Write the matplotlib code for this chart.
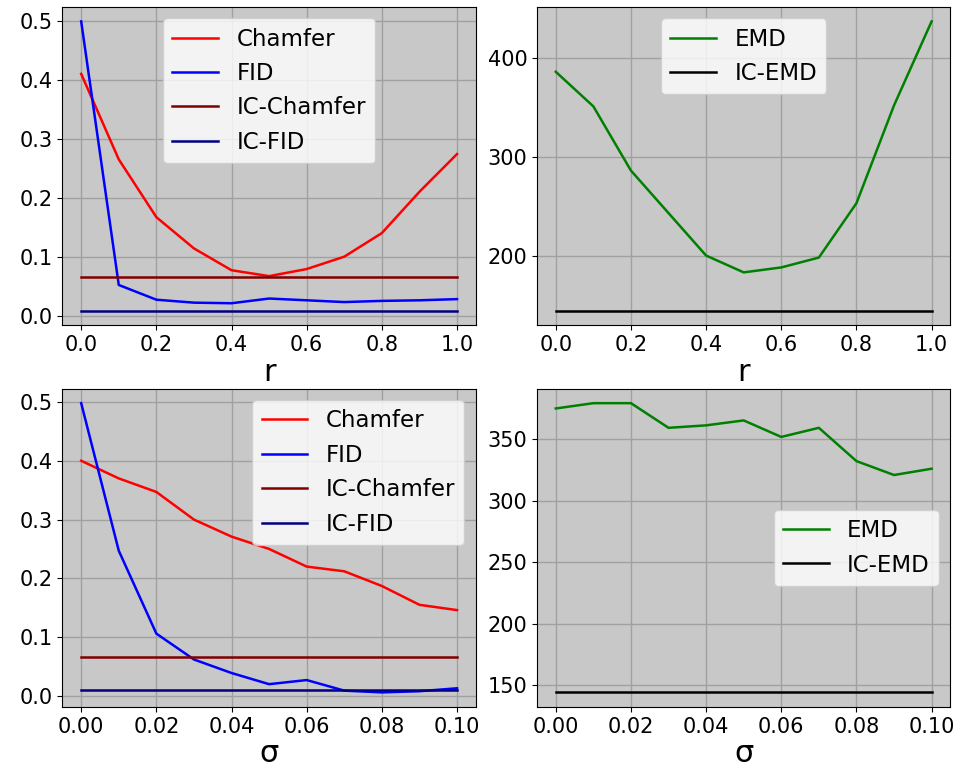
import numpy as np
import matplotlib
matplotlib.use("Agg")
import matplotlib.pyplot as plt

# sweep over r
r = [0.0, 0.1, 0.2, 0.3, 0.4, 0.5, 0.6, 0.7, 0.8, 0.9, 1.0]
chamfer_r = [0.411, 0.266, 0.168, 0.115, 0.078, 0.068, 0.080, 0.101, 0.141, 0.211, 0.275]
fid_r = [0.500, 0.053, 0.028, 0.023, 0.022, 0.030, 0.027, 0.024, 0.026, 0.027, 0.029]
emd_r = [386, 351, 286, 243, 200, 183, 188, 198, 253, 352, 437]

# sweep over sigma
sigma = [0.00, 0.01, 0.02, 0.03, 0.04, 0.05, 0.06, 0.07, 0.08, 0.09, 0.10]
chamfer_s = [0.400, 0.370, 0.347, 0.300, 0.271, 0.250, 0.220, 0.212, 0.187, 0.155, 0.146]
fid_s = [0.498, 0.247, 0.106, 0.062, 0.039, 0.020, 0.027, 0.009, 0.006, 0.008, 0.013]
emd_s = [374.7, 379, 379, 359, 361, 365, 351.6, 359, 332, 320.7, 325.8]

# reference (IC) values
ic_chamfer = 0.066
ic_fid = 0.0095
ic_emd = 144.3

plt.rcParams['font.size'] = 15
bg = '#c8c8c8'

fig, axs = plt.subplots(2, 2, figsize=(9.6, 7.7), dpi=100)
plt.subplots_adjust(left=0.065, right=0.99, top=0.991, bottom=0.082, hspace=0.2, wspace=0.148)

def metric_panel(ax, x, ch, fid, loc):
    ax.plot(x, ch, color='r', lw=1.8, label='Chamfer')
    ax.plot(x, fid, color='b', lw=1.8, label='FID')
    ax.plot(x, [ic_chamfer]*len(x), color='#800000', lw=1.8, label='IC-Chamfer')
    ax.plot(x, [ic_fid]*len(x), color='#000080', lw=1.8, label='IC-FID')
    ax.legend(loc=loc, fontsize=16.5, labelspacing=0.5)

def emd_panel(ax, x, emd, loc):
    ax.plot(x, emd, color='g', lw=1.8, label='EMD')
    ax.plot(x, [ic_emd]*len(x), color='k', lw=1.8, label='IC-EMD')
    ax.legend(loc=loc, fontsize=16.5, labelspacing=0.5)

metric_panel(axs[0, 0], r, chamfer_r, fid_r, 'upper center')
emd_panel(axs[0, 1], r, emd_r, 'upper center')
metric_panel(axs[1, 0], sigma, chamfer_s, fid_s, 'upper right')
emd_panel(axs[1, 1], sigma, emd_s, 'center right')

for ax in axs[0]:
    ax.set_xlabel('r', fontsize=22, labelpad=2)
for ax in axs[1]:
    ax.set_xlabel('σ', fontsize=22, labelpad=2)

axs[0, 1].set_yticks([200, 300, 400])
axs[1, 1].set_yticks([150, 200, 250, 300, 350])

for ax in axs.flat:
    ax.set_facecolor(bg)
    ax.grid(True, color='#a0a0a0', lw=1)
    ax.set_axisbelow(True)
    ax.tick_params(labelsize=15)

plt.savefig('out.png')
